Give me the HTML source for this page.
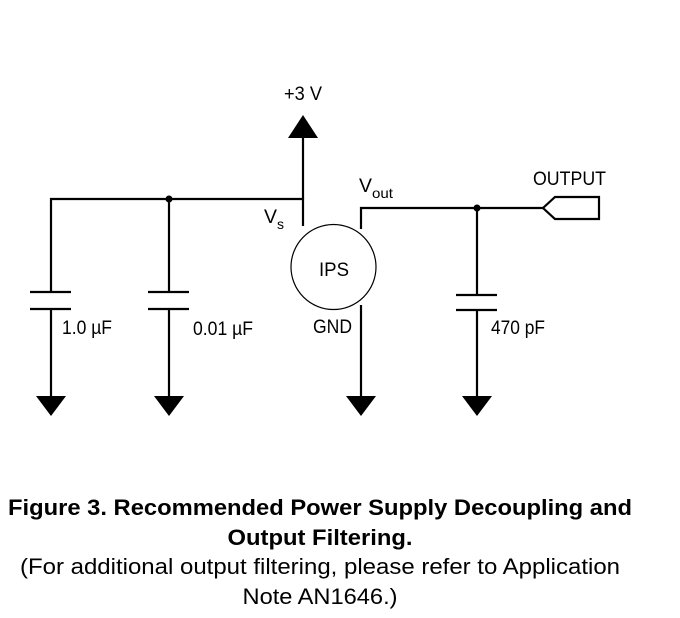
<!DOCTYPE html>
<html><head><meta charset="utf-8"><style>html,body{margin:0;padding:0;background:#fff}svg{display:block}</style></head>
<body>
<svg width="680" height="618" viewBox="0 0 680 618" xmlns="http://www.w3.org/2000/svg" font-family="Liberation Sans, sans-serif" fill="#000">
<g stroke="#000" stroke-width="2.2" fill="none">
<polyline points="51,292 51,199 303,199 303,226"/>
<line x1="303" y1="199" x2="303" y2="136"/>
<line x1="169" y1="199" x2="169" y2="292"/>
<line x1="30" y1="292" x2="71" y2="292"/><line x1="30" y1="309" x2="71" y2="309"/>
<line x1="148" y1="292" x2="189" y2="292"/><line x1="148" y1="309" x2="189" y2="309"/>
<line x1="456" y1="295" x2="497" y2="295"/><line x1="456" y1="310" x2="497" y2="310"/>
<line x1="51" y1="309" x2="51" y2="398"/>
<line x1="169" y1="309" x2="169" y2="398"/>
<line x1="477" y1="310" x2="477" y2="398"/>
<line x1="477" y1="208" x2="477" y2="295"/>
<polyline points="361,229 361,208 543,208"/>
<line x1="361" y1="305" x2="361" y2="398"/>
<polygon points="543,208 555,197 599,197 599,219 555,219"/>
</g>
<circle cx="333.5" cy="267" r="42.5" fill="none" stroke="#000" stroke-width="1.2"/>
<circle cx="169" cy="199" r="3.5"/>
<circle cx="477" cy="208" r="3.5"/>
<polygon points="303,115 288,138 318,138"/>
<polygon points="36,396 66,396 51,416"/>
<polygon points="154,396 184,396 169,416"/>
<polygon points="346,396 376,396 361,416"/>
<polygon points="462,396 492,396 477,416"/>
<g font-size="19">
<text x="284" y="100" textLength="38" lengthAdjust="spacingAndGlyphs">+3 V</text>
<text x="264" y="223" textLength="13" lengthAdjust="spacingAndGlyphs">V</text><text x="277" y="229" font-size="14">s</text>
<text x="359" y="192" textLength="13" lengthAdjust="spacingAndGlyphs">V</text><text x="372" y="198" font-size="14" textLength="21" lengthAdjust="spacingAndGlyphs">out</text>
<text x="533" y="185" textLength="73" lengthAdjust="spacingAndGlyphs">OUTPUT</text>
<text x="319" y="276" textLength="30" lengthAdjust="spacingAndGlyphs">IPS</text>
<text x="313" y="333" textLength="39" lengthAdjust="spacingAndGlyphs">GND</text>
<text x="62" y="334" textLength="50" lengthAdjust="spacingAndGlyphs">1.0 µF</text>
<text x="193" y="335" textLength="60" lengthAdjust="spacingAndGlyphs">0.01 µF</text>
<text x="491" y="334" textLength="54" lengthAdjust="spacingAndGlyphs">470 pF</text>
</g>
<g font-size="22" text-anchor="middle">
<text x="320" y="515" font-weight="bold" textLength="624" lengthAdjust="spacingAndGlyphs">Figure 3. Recommended Power Supply Decoupling and</text>
<text x="320" y="545" font-weight="bold" textLength="185" lengthAdjust="spacingAndGlyphs">Output Filtering.</text>
<text x="320" y="574" textLength="600" lengthAdjust="spacingAndGlyphs">(For additional output filtering, please refer to Application</text>
<text x="320" y="604" textLength="155" lengthAdjust="spacingAndGlyphs">Note AN1646.)</text>
</g>
</svg>
</body></html>
